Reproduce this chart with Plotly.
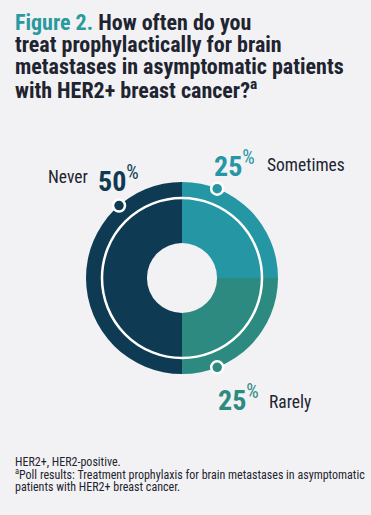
import math
import plotly.graph_objects as go

# ---------------- data ----------------
labels = ["Never", "Rarely", "Sometimes"]
values = [50, 25, 25]
colors = ["#0e3b53", "#2d8a80", "#2596a4"]

title_prefix = "Figure 2."
title_lines = [
    "How often do you",
    "treat prophylactically for brain",
    "metastases in asymptomatic patients",
    "with HER2+ breast cancer?<sup>a</sup>",
]
footnotes = [
    "HER2+, HER2-positive.",
    "<sup>a</sup>Poll results: Treatment prophylaxis for brain metastases in asymptomatic",
    "patients with HER2+ breast cancer.",
]

# ---------------- layout constants ----------------
W, H = 371, 515
BG = "#f2f2f4"
DARK = "#1e2430"
TEAL_TITLE = "#2a9a9e"
FONT = "Roboto Condensed, Open Sans Condensed, sans-serif"

cx, cy, R = 182, 278, 96
hole_frac = 0.365
ring_r = 80
dot_r = 6
dot_angles = {"Never": 131, "Sometimes": 68.5, "Rarely": -68.5}

fig = go.Figure()

fig.add_trace(go.Pie(
    labels=labels, values=values, sort=False, direction="counterclockwise",
    rotation=180, hole=hole_frac, textinfo="none", hoverinfo="label+percent",
    marker=dict(colors=colors, line=dict(width=0)),
    domain=dict(x=[(cx - R) / W, (cx + R) / W],
                y=[(H - cy - R) / H, (H - cy + R) / H]),
    showlegend=False,
))

shapes = [dict(type="circle", xref="x", yref="y", layer="above",
               x0=cx - ring_r, x1=cx + ring_r, y0=cy - ring_r, y1=cy + ring_r,
               line=dict(color="white", width=2.5), fillcolor="rgba(0,0,0,0)")]
for lab, col in zip(labels, colors):
    a = math.radians(dot_angles[lab])
    px, py = cx + R * math.cos(a), cy - R * math.sin(a)
    shapes.append(dict(type="circle", xref="x", yref="y", layer="above",
                       x0=px - dot_r, x1=px + dot_r, y0=py - dot_r, y1=py + dot_r,
                       fillcolor=col, line=dict(color="white", width=2.5)))

ann = []
def txt(x, baseline, text, size, color=DARK, bold=False, xanchor="left"):
    t = f"<b>{text}</b>" if bold else text
    ann.append(dict(x=x / W, y=1 - (baseline - 0.33 * size) / H, xref="paper", yref="paper",
                    text=t, showarrow=False, xanchor=xanchor, yanchor="middle",
                    font=dict(family=FONT, size=size, color=color), align="left"))

# title
title_base = [30, 52, 74, 96]
for i, line in enumerate(title_lines):
    if i == 0:
        line = f"<span style='color:{TEAL_TITLE}'>{title_prefix}</span> " + line
    txt(13, title_base[i], line, 22, DARK, bold=True)

pct = {lab: v / sum(values) * 100 for lab, v in zip(labels, values)}

def pct_text(v):
    return f"<b>{v:.0f}</b><sup>%</sup>"

# Never
txt(46, 183, "Never", 17.5)
txt(96, 189, pct_text(pct["Never"]), 28, colors[0])
# Sometimes
txt(212, 174, pct_text(pct["Sometimes"]), 28, colors[2])
txt(265, 171, "Sometimes", 17.5)
# Rarely
txt(216, 408, pct_text(pct["Rarely"]), 28, colors[1])
txt(267, 408, "Rarely", 17.5)

# footnotes
for i, f in enumerate(footnotes):
    txt(13, 466 + 12.3 * i, f, 12)

fig.update_layout(
    width=W, height=H, margin=dict(l=0, r=0, t=0, b=0),
    paper_bgcolor=BG, plot_bgcolor="rgba(0,0,0,0)",
    xaxis=dict(range=[0, W], visible=False, fixedrange=True),
    yaxis=dict(range=[H, 0], visible=False, fixedrange=True),
    shapes=shapes, annotations=ann, showlegend=False,
)
fig.write_html("out.html", config={"displayModeBar": False},
               post_script="document.body.style.margin='0';document.body.style.background='#f2f2f4';")
